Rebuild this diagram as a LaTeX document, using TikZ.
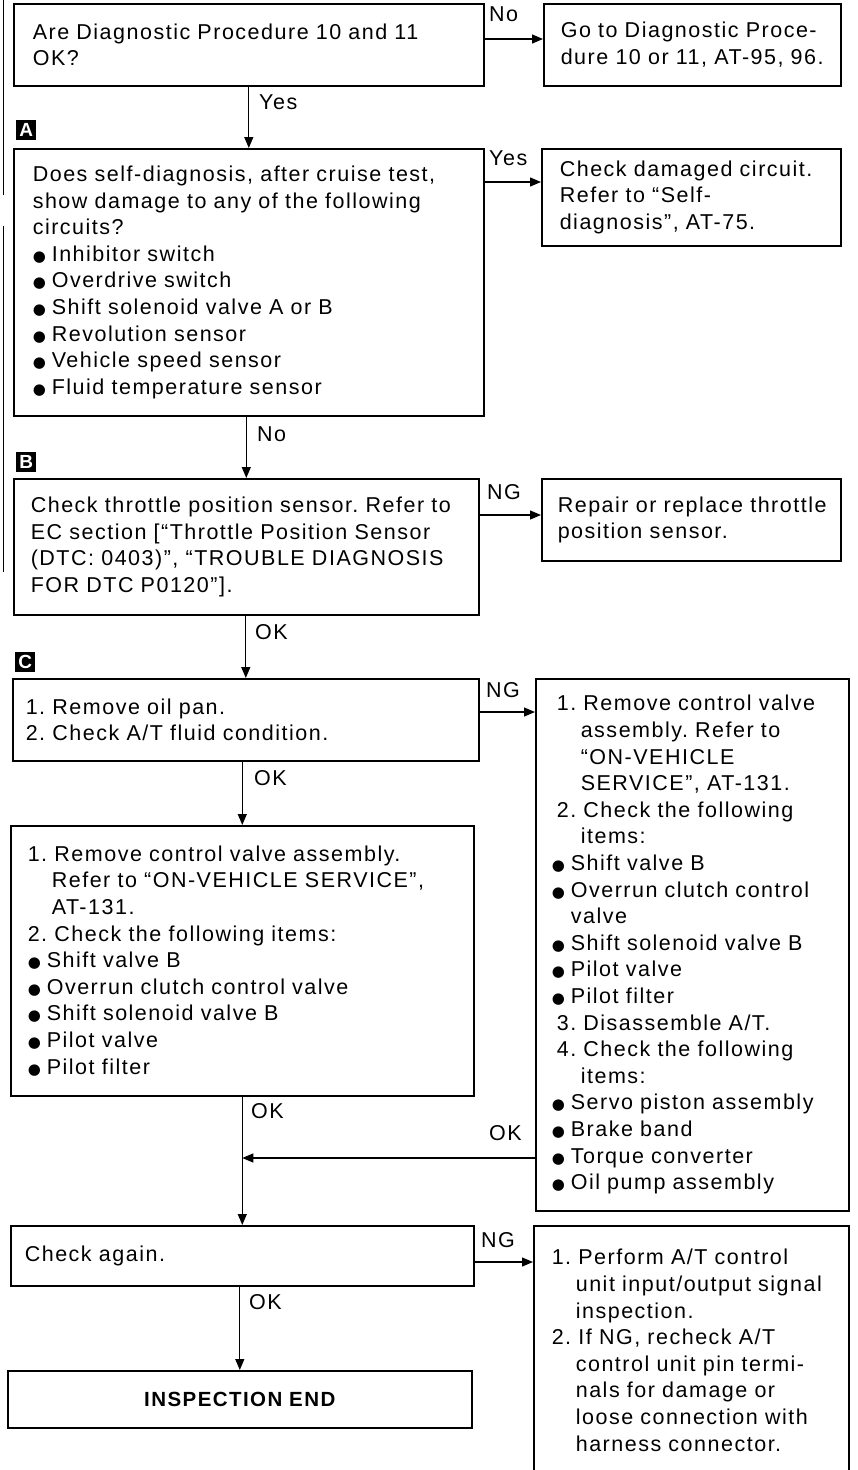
\documentclass[tikz,border=0pt]{standalone}
\usepackage{fontspec}
\setmainfont[LetterSpace=7]{Liberation Sans}
\newfontfamily\symfont{DejaVu Sans}
\usetikzlibrary{arrows.meta}
\frenchspacing

\newcommand{\dotitem}{\makebox[19pt][l]{\symfont\fontsize{15}{15}\selectfont ●}}
\newcommand{\contd}{\hspace*{24pt}}

\begin{document}
\begin{tikzpicture}[x=1pt,y=-1pt,font=\fontsize{21.5}{26.6}\selectfont,
  box/.style={draw,line width=1.6pt,anchor=north west,align=left,inner ysep=0pt},
  lbl/.style={anchor=west,inner sep=1pt},
  conn/.style={line width=1.3pt,-{Triangle[length=11pt,width=9pt]}},
  tag/.style={fill=black,text=white,anchor=north west,inner sep=0pt,minimum size=20pt,
    font=\fontsize{19}{19}\selectfont\bfseries}]
\useasboundingbox (0,0) rectangle (858,1470);
% edge of the next sheet
\draw[line width=1pt] (3,0) -- (3,195);
\draw[line width=1pt] (3,226) -- (3,572);
% left column
\node[box,inner xsep=19pt,text width=432pt,minimum height=82pt] (q1) at (13,3)
  {Are Diagnostic Procedure 10 and 11\\OK?};
\node[tag] (tA) at (16,120) {A};
\node[box,inner xsep=19pt,text width=432pt,minimum height=267pt] (q2) at (13,148)
  {Does self-diagnosis, after cruise test,\\show damage to any of the following\\circuits?\\
   \dotitem Inhibitor switch\\\dotitem Overdrive switch\\\dotitem Shift solenoid valve A or B\\
   \dotitem Revolution sensor\\\dotitem Vehicle speed sensor\\\dotitem Fluid temperature sensor};
\node[tag] (tB) at (16,452) {B};
\node[box,inner xsep=17pt,text width=431pt,minimum height=136pt] (q3) at (13,478)
  {Check throttle position sensor. Refer to\\EC section [``Throttle Position Sensor\\
   (DTC: 0403)'', ``TROUBLE DIAGNOSIS\\FOR DTC P0120''].};
\node[tag] (tC) at (15,652) {C};
\node[box,inner xsep=13pt,text width=440pt,minimum height=82pt] (q4) at (12,678)
  {1. Remove oil pan.\\2. Check A/T fluid condition.};
\node[box,inner xsep=17pt,text width=429pt,minimum height=270pt] (q5) at (10,825)
  {1. Remove control valve assembly.\\\contd Refer to ``ON-VEHICLE SERVICE'',\\\contd AT-131.\\
   2. Check the following items:\\\dotitem Shift valve B\\\dotitem Overrun clutch control valve\\
   \dotitem Shift solenoid valve B\\\dotitem Pilot valve\\\dotitem Pilot filter};
\node[box,inner xsep=14pt,text width=435pt,minimum height=60pt] (q6) at (10,1225)
  {Check again.};
\node[box,align=center,inner xsep=14pt,text width=436pt,minimum height=57pt,font=\fontsize{20.5}{26.6}\selectfont\bfseries] (q7) at (7,1370)
  {INSPECTION END};
% right column
\node[box,inner xsep=17pt,text width=263pt,minimum height=82pt] (r1) at (543,3)
  {Go to Diagnostic Proce-\\dure 10 or 11, AT-95, 96.};
\node[box,inner xsep=18pt,text width=263pt,minimum height=97pt] (r2) at (541,148)
  {Check damaged circuit.\\Refer to ``Self-\\diagnosis'', AT-75.};
\node[box,inner xsep=16pt,text width=267pt,minimum height=82pt] (r3) at (541,478)
  {Repair or replace throttle\\position sensor.};
\node[box,inner xsep=16pt,text width=281pt,minimum height=532pt] (r4) at (535,678)
  {\hspace*{5pt}1. Remove control valve\\\hspace*{29pt}assembly. Refer to\\\hspace*{29pt}``ON-VEHICLE\\
   \hspace*{29pt}SERVICE'', AT-131.\\\hspace*{5pt}2. Check the following\\\hspace*{29pt}items:\\
   \dotitem Shift valve B\\\dotitem Overrun clutch control\\\hspace*{19pt}valve\\
   \dotitem Shift solenoid valve B\\\dotitem Pilot valve\\\dotitem Pilot filter\\
   \hspace*{5pt}3. Disassemble A/T.\\\hspace*{5pt}4. Check the following\\\hspace*{29pt}items:\\
   \dotitem Servo piston assembly\\\dotitem Brake band\\\dotitem Torque converter\\
   \dotitem Oil pump assembly};
\node[box,inner xsep=18pt,text width=279pt,minimum height=249pt] (r6) at (533,1225)
  {1. Perform A/T control\\\contd unit input/output signal\\\contd inspection.\\
   2. If NG, recheck A/T\\\contd control unit pin termi-\\\contd nals for damage or\\
   \contd loose connection with\\\contd harness connector.};
% connectors
\draw[conn] ([yshift=-36pt]q1.north east) -- ([yshift=-36pt]r1.north west);
\draw[conn] (q1.south) -- (q2.north);
\draw[conn] ([yshift=-34pt]q2.north east) -- ([yshift=-34pt]r2.north west);
\draw[conn] (q3.north |- q2.south) -- (q3.north);
\draw[conn] ([yshift=-37pt]q3.north east) -- ([yshift=-37pt]r3.north west);
\draw[conn] (q4.north |- q3.south) -- (q4.north);
\draw[conn] ([yshift=-34pt]q4.north east) -- ([yshift=-34pt]r4.north west);
\draw[conn] (q5.north |- q4.south) -- (q5.north);
\draw[conn] (q6.north |- q5.south) -- (q6.north);
\coordinate (join) at (q6.north |- 0,1158);
\draw[conn] (join -| r4.west) -- (join);
\draw[conn] ([yshift=-37pt]q6.north east) -- ([yshift=-37pt]r6.north west);
\draw[conn] (q7.north |- q6.south) -- (q7.north);
% labels
\node[lbl] (no1) at (488,14) {No};
\node[lbl] (yes1) at (258,102) {Yes};
\node[lbl] (yes2) at (488,158) {Yes};
\node[lbl] (no2) at (256,434) {No};
\node[lbl] (ng1) at (486,492) {NG};
\node[lbl] (ok1) at (254,632) {OK};
\node[lbl] (ng2) at (485,690) {NG};
\node[lbl] (ok2) at (253,778) {OK};
\node[lbl] (ok3) at (250,1111) {OK};
\node[lbl] (ok4) at (488,1133) {OK};
\node[lbl] (ng3) at (480,1240) {NG};
\node[lbl] (ok5) at (248,1302) {OK};
\end{tikzpicture}
\end{document}
